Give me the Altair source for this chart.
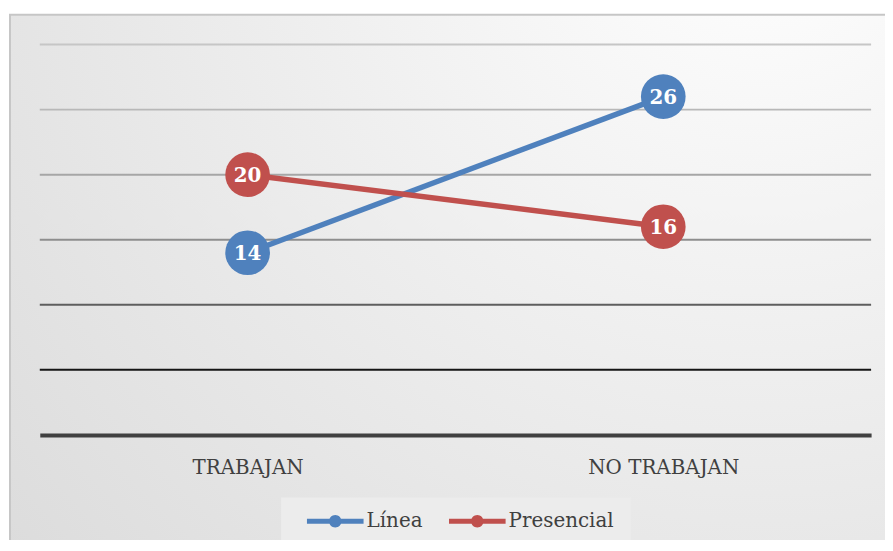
import altair as alt
import pandas as pd

categorias = ["TRABAJAN", "NO TRABAJAN"]
series = ["Línea", "Presencial"]
valores_linea = [14, 26]
valores_presencial = [20, 16]
grid_vals = [5, 10, 15, 20, 25, 30]

colores = ["#4f81bd", "#c0504d"]
grid_colors = ["#151515", "#5e5e5e", "#8e8e8e", "#a6a6a6", "#b8b8b8", "#c6c6c6"]

rows = []
for s, vals in zip(series, [valores_linea, valores_presencial]):
    for c, v in zip(categorias, vals):
        rows.append({"cat": c, "serie": s, "valor": v})
df = pd.DataFrame(rows)
grid_df = pd.DataFrame({"v": grid_vals})

FONT = "DejaVu Serif"

x_enc = alt.X(
    "cat:N",
    sort=categorias,
    scale=alt.Scale(type="point", padding=0.5),
    axis=alt.Axis(
        title=None, ticks=False, grid=False, domain=True,
        domainColor="#404040", domainWidth=4,
        labelFont=FONT, labelFontSize=20, labelColor="#404040",
        labelPadding=23, labelAngle=0, zindex=2,
    ),
)
y_scale = alt.Scale(domain=[0, 30], nice=False, zero=True)
y_enc = alt.Y("valor:Q", scale=y_scale, axis=None)
color_scale = alt.Scale(domain=series, range=colores)

legend_symbol = (
    "M-1,-0.09L1,-0.09L1,0.09L-1,0.09Z"
    "M-0.22,0A0.22,0.22 0 1,1 0.22,0A0.22,0.22 0 1,1 -0.22,0Z"
)

background = alt.Chart(alt.Data(values=[{}])).mark_rect(
    fill=alt.Gradient(
        gradient="radial",
        stops=[alt.GradientStop(color="#ffffff", offset=0),
               alt.GradientStop(color="#dadada", offset=1)],
        x1=0.85, y1=0.05, x2=0.85, y2=0.05, r1=0, r2=1.2,
    ),
    stroke="#c6c6c6",
    strokeWidth=2,
).encode(
    x=alt.value(-30), x2=alt.value(860),
    y=alt.value(-30), y2=alt.value(520),
)

grid = alt.Chart(grid_df).mark_rule(strokeWidth=2).encode(
    y=alt.Y("v:Q", scale=y_scale, axis=None),
    stroke=alt.Stroke("v:O", scale=alt.Scale(domain=grid_vals, range=grid_colors), legend=None),
)

lines = alt.Chart(df).mark_line(strokeWidth=5.5).encode(
    x=x_enc,
    y=y_enc,
    stroke=alt.Stroke("serie:N", scale=color_scale, legend=None),
    detail="serie:N",
)

points = alt.Chart(df).mark_circle(size=2025, opacity=1).encode(
    x=x_enc,
    y=y_enc,
    color=alt.Color(
        "serie:N",
        scale=color_scale,
        legend=alt.Legend(
            title=None,
            orient="none",
            legendX=243,
            legendY=456,
            direction="horizontal",
            symbolType=legend_symbol,
            symbolSize=3249,
            symbolStrokeWidth=0,
            symbolOpacity=1,
            symbolOffset=9,
            clipHeight=14,
            labelFont=FONT,
            labelFontSize=20,
            labelColor="#404040",
            labelOffset=3,
            columnPadding=17,
            padding=17,
            fillColor="#ececec",
            zindex=2,
        ),
    ),
)

labels = alt.Chart(df).mark_text(
    font=FONT, fontSize=20, fontWeight="bold", color="white", baseline="middle", align="center", dy=1
).encode(
    x=x_enc,
    y=y_enc,
    text=alt.Text("valor:Q"),
)

chart = alt.layer(background, grid, lines, points, labels).resolve_scale(
    stroke="independent"
).properties(
    width=837,
    height=393,
    padding={"left": 32, "top": 35, "right": 14, "bottom": 104},
    autosize=alt.AutoSizeParams(type="none"),
    background="white",
).configure_view(stroke=None)

chart.save("out.html", embed_options={"renderer": "svg", "actions": False})
